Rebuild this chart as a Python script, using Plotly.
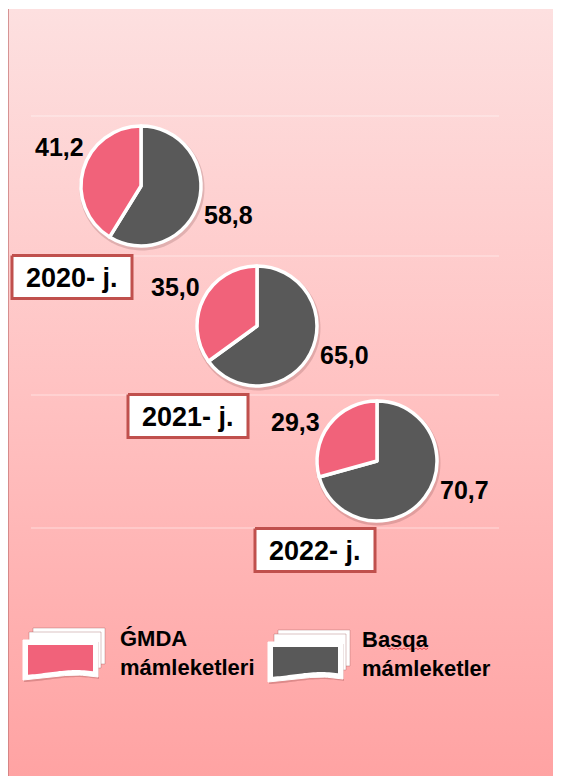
import plotly.graph_objects as go
import numpy as np

# ---- data ----
years = ["2020- j.", "2021- j.", "2022- j."]
gmda_share = [41.2, 35.0, 29.3]
other_share = [58.8, 65.0, 70.7]
series_names = ["ǴMDA<br>mámleketleri", "Basqa<br>mámleketler"]

# ---- layout / style ----
W, H = 561, 776
OX, OY = 8, 8          # page body margin compensation
PINK = "#F1627A"
GREY = "#595959"
BOX_RED = "#C0504D"
FONT = "Liberation Sans, Arial, sans-serif"
pie_centers = [(141, 186), (257, 326), (377, 461)]
pie_r = 60
box_centers = [(72, 277), (188, 416), (315, 550)]
box_w, box_h = 120, 43
lab_off_pink = (-82, -39)
lab_off_grey = (87, 29)

def fmt(v):
    return f"{v:.1f}".replace(".", ",")

fig = go.Figure()

# background panel with vertical gradient
fig.add_trace(go.Scatter(
    x=[8, W + 20, W + 20, 8, 8], y=[9, 9, H + 20, H + 20, 9], fill="toself", mode="none",
    fillgradient=dict(type="vertical", start=9, stop=H,
                      colorscale=[[0, "rgb(253,224,224)"], [0.5, "rgb(255,194,194)"], [1, "rgb(255,163,163)"]]),
    hoverinfo="skip", showlegend=False))

# panel left border
fig.add_trace(go.Scatter(x=[8, 8], y=[9, H + 20], mode="lines",
                         line=dict(color="#c97b7b", width=1.5), hoverinfo="skip", showlegend=False))
# faint ticks on the left
for ty in [149, 290, 431, 572, 712]:
    fig.add_trace(go.Scatter(x=[0, 8], y=[ty, ty], mode="lines",
                             line=dict(color="#d4d4d4", width=1), hoverinfo="skip", showlegend=False))
# faint horizontal gridlines
for gy in [116, 256, 395, 528]:
    fig.add_trace(go.Scatter(x=[31, 499], y=[gy, gy], mode="lines",
                             line=dict(color="rgba(255,255,255,0.5)", width=1.2), hoverinfo="skip", showlegend=False))

# pie shadows
t = np.linspace(0, 2 * np.pi, 100)
for (cx, cy) in pie_centers:
    fig.add_trace(go.Scatter(x=cx + 1 + (pie_r + 2.5) * np.cos(t), y=cy + 2 + (pie_r + 2.5) * np.sin(t),
                             fill="toself", mode="none", fillcolor="rgba(90,40,40,0.18)",
                             hoverinfo="skip", showlegend=False))

# year boxes
for (bx, by), yr in zip(box_centers, years):
    x0, x1, y0, y1 = bx - box_w / 2, bx + box_w / 2, by - box_h / 2, by + box_h / 2
    fig.add_trace(go.Scatter(x=[x0, x1, x1, x0, x0], y=[y0, y0, y1, y1, y0], fill="toself",
                             mode="lines", fillcolor="white", line=dict(color=BOX_RED, width=3),
                             hoverinfo="skip", showlegend=False))
    fig.add_annotation(x=bx, y=by + 1, xref="x", yref="y", text=f"<b>{yr}</b>", showarrow=False,
                       font=dict(family=FONT, size=27, color="black"), xanchor="center", yanchor="middle")

# pies: grey drawn clockwise from 12 o'clock, so the pink share sits on the left ending at 12 o'clock
for (cx, cy), g, o in zip(pie_centers, gmda_share, other_share):
    fig.add_trace(go.Pie(
        values=[o, g], labels=["Basqa mámleketler", "ǴMDA mámleketleri"], sort=False,
        direction="clockwise", rotation=0, textinfo="none", hoverinfo="label+value",
        marker=dict(colors=[GREY, PINK], line=dict(color="white", width=3.5)),
        domain=dict(x=[(cx - pie_r - OX) / W, (cx + pie_r - OX) / W],
                    y=[1 - (cy + pie_r - OY) / H, 1 - (cy - pie_r - OY) / H]),
        showlegend=False))
    fig.add_annotation(x=cx + lab_off_pink[0], y=cy + lab_off_pink[1], xref="x", yref="y",
                       text=f"<b>{fmt(g)}</b>", showarrow=False,
                       font=dict(family=FONT, size=25, color="black"), xanchor="center", yanchor="middle")
    fig.add_annotation(x=cx + lab_off_grey[0], y=cy + lab_off_grey[1], xref="x", yref="y",
                       text=f"<b>{fmt(o)}</b>", showarrow=False,
                       font=dict(family=FONT, size=25, color="black"), xanchor="center", yanchor="middle")

# legend icons (stacked cards)
def card_icon(x0, y0, color):
    for dx, dy in [(10, -12), (6, -8)]:
        fig.add_trace(go.Scatter(x=[x0 + dx, x0 + dx + 72, x0 + dx + 72, x0 + dx, x0 + dx],
                                 y=[y0 + dy, y0 + dy, y0 + dy + 36, y0 + dy + 36, y0 + dy],
                                 fill="toself", mode="lines", fillcolor="white",
                                 line=dict(color="rgba(150,80,80,0.35)", width=1),
                                 hoverinfo="skip", showlegend=False))
    xs = np.linspace(x0, x0 + 75, 30)
    bottom = y0 + 40 - 5 * np.sin((xs - x0) / 75 * np.pi) * ((xs - x0) / 75) - 3 * (xs - x0) / 75
    fx = np.concatenate([[x0, x0 + 75], xs[::-1]])
    fy = np.concatenate([[y0, y0], bottom[::-1]])
    fig.add_trace(go.Scatter(x=np.append(fx, fx[0]) + 1, y=np.append(fy, fy[0]) + 2, fill="toself", mode="none",
                             fillcolor="rgba(120,40,40,0.25)", hoverinfo="skip", showlegend=False))
    fig.add_trace(go.Scatter(x=np.append(fx, fx[0]), y=np.append(fy, fy[0]), fill="toself", mode="lines",
                             fillcolor="white", line=dict(color="white", width=1),
                             hoverinfo="skip", showlegend=False))
    ix = np.linspace(x0 + 5, x0 + 70, 30)
    ib = np.interp(ix, xs, bottom) - 5
    px = np.concatenate([[x0 + 5, x0 + 70], ix[::-1]])
    py = np.concatenate([[y0 + 5, y0 + 5], ib[::-1]])
    fig.add_trace(go.Scatter(x=np.append(px, px[0]), y=np.append(py, py[0]), fill="toself", mode="none",
                             fillcolor=color, hoverinfo="skip", showlegend=False))

legend_icon_pos = [(23, 640), (268, 642)]
legend_text_pos = [(118, 653), (360, 654)]
for (ix0, iy0), col in zip(legend_icon_pos, [PINK, GREY]):
    card_icon(ix0, iy0, col)
for (tx, ty), name in zip(legend_text_pos, series_names):
    fig.add_annotation(x=tx, y=ty, xref="x", yref="y", text=f"<b>{name}</b>", showarrow=False,
                       align="left", font=dict(family=FONT, size=22, color="black"),
                       xanchor="left", yanchor="middle")
# spell-check squiggle under "Basqa"
sq_x = np.linspace(388, 428, 21)
sq_y = 648 + np.where(np.arange(21) % 2 == 0, 0, 1.5)
fig.add_trace(go.Scatter(x=sq_x, y=sq_y, mode="lines", line=dict(color="#e03030", width=0.8),
                         hoverinfo="skip", showlegend=False))

fig.update_layout(
    width=W, height=H, margin=dict(l=0, r=0, t=0, b=0),
    paper_bgcolor="white", plot_bgcolor="rgba(0,0,0,0)",
    xaxis=dict(range=[OX, W + OX], visible=False, fixedrange=True),
    yaxis=dict(range=[H + OY, OY], visible=False, fixedrange=True),
    showlegend=False,
)
fig.write_html("out.html")
